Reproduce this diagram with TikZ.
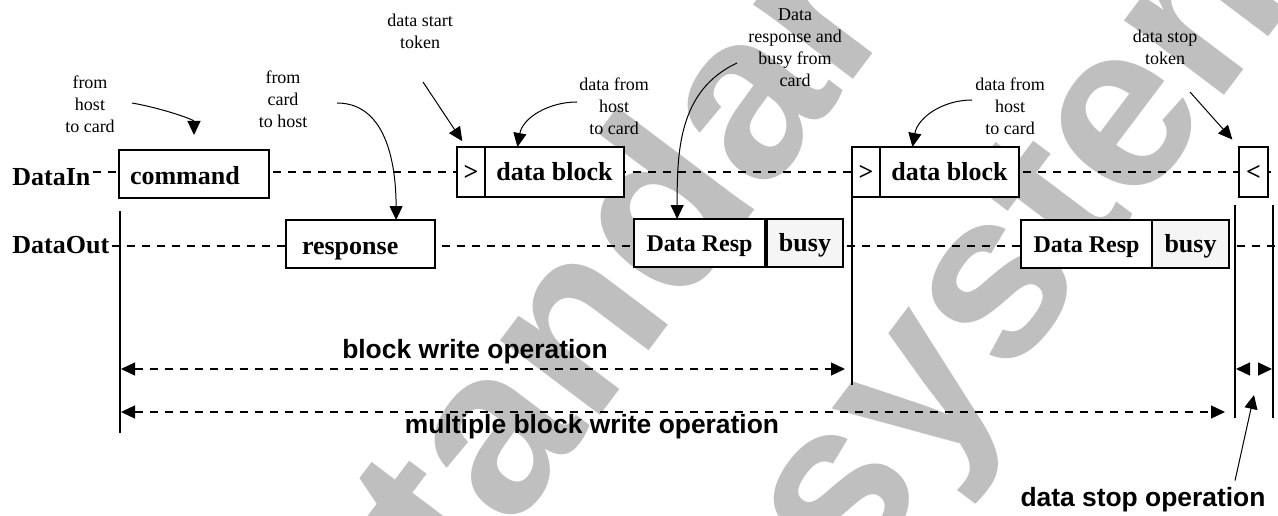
\documentclass[tikz,border=0pt]{standalone}
\usepackage{fontspec}
\setmainfont{Liberation Serif}
\setsansfont{Liberation Sans}
\usetikzlibrary{positioning,arrows.meta}

\begin{document}
\begin{tikzpicture}[
  x=0.5pt, y=0.5pt,
  box/.style={
    draw,
    fill=white,
    line width=0.8pt,
    outer sep=0pt,
    inner sep=0pt,
    minimum height=24pt,
    text height=9pt,
    text depth=1pt,
    font=\fontsize{13}{15}\selectfont\bfseries
  },
  token/.style={box, minimum width=14pt, minimum height=25pt},
  lane/.style={line width=0.65pt, dash pattern=on 4pt off 3.5pt},
  span/.style={
    lane,
    {Triangle[length=7pt,width=6.5pt]}-{Triangle[length=7pt,width=6.5pt]}
  },
  note/.style={align=center, font=\fontsize{9}{11}\selectfont},
  pointer/.style={line width=0.5pt, -{Triangle[length=7pt,width=6.5pt]}},
  optext/.style={font=\sffamily\bfseries\fontsize{13.2}{15}\selectfont},
  signal/.style={anchor=west, inner sep=1pt,
    font=\fontsize{13}{15}\selectfont\bfseries},
  wm/.style={anchor=base west, rotate=53, text=black!25,
    font=\sffamily\bfseries\fontsize{118}{118}\selectfont}
]
\useasboundingbox (0,0) rectangle (1278,515);

% grey stamp behind everything
\node[wm] (wm1) at (381,-191) {standard};
\node[wm] (wm2) at (847,-81) {system};

% the two signal lines
\node[signal] (datain) at (10,338) {DataIn};
\node[signal] (dataout) at (10,270) {DataOut};
\coordinate (inend) at (1278,343);
\coordinate (outend) at (1278,269);
\draw[lane] (datain.east |- inend) -- (inend);
\draw[lane] (dataout.east |- outend) -- (outend);

% tokens on DataIn
\node[box, minimum width=75pt, align=left, inner xsep=5.5pt, text width=64pt,
  text height=11pt, text depth=0pt] (cmd) at (194,341) {command};
\node[token] (st1) at (471,343) {>};
\node[box, minimum width=69.5pt, minimum height=25pt, right=0pt of st1] (db1) {data block};
\node[token] (st2) at (866,343) {>};
\node[box, minimum width=69.5pt, minimum height=25pt, right=0pt of st2] (db2) {data block};
\node[token, minimum width=14.5pt] (sp) at (1253.5,343) {<};

% tokens on DataOut
\node[box, minimum width=74.5pt, align=left, inner xsep=8pt, text width=58.5pt,
  text height=10pt, text depth=0pt] (resp) at (360.5,271) {response};
\node[box, minimum width=65.5pt, font=\fontsize{12}{14}\selectfont\bfseries] (dr1) at (699.5,272) {Data Resp};
\node[box, fill=black!4, minimum width=38pt, right=1pt of dr1] (busy1) {busy};
\node[box, minimum width=65.5pt, font=\fontsize{12}{14}\selectfont\bfseries] (dr2) at (1086.5,271) {Data Resp};
\node[box, fill=black!4, minimum width=38.5pt, right=0pt of dr2] (busy2) {busy};

% markers
\coordinate (lt) at (120,304);
\coordinate (lb) at (120,82);
\coordinate (mb) at (852,130);
\draw[line width=0.7pt] (lt) -- (lb);
\draw[line width=0.7pt] (st2.south west) -- (mb);
\foreach \x/\n in {1235/ra,1273/rb} {
  \coordinate (\n-t) at (\x,310);
  \coordinate (\n-b) at (\x,97);
  \draw[line width=0.7pt] (\n-t) -- (\n-b);
}

% operation spans
\coordinate (bwl) at (121,146);
\coordinate (bwr) at (845,146);
\coordinate (mbwl) at (121,103);
\coordinate (mbwr) at (1225,103);
\coordinate (stl) at (1236,146);
\coordinate (str) at (1272,146);
\draw[span] (bwl) -- (bwr);
\draw[span] (mbwl) -- (mbwr);
\draw[span, dash pattern=on 0pt off 20pt] (stl) -- (str);
\node[optext] (bwt) at (475,163) {block write operation};
\node[optext] (mbwt) at (592,88) {multiple block write operation};
\node[optext] (dso) at (1143,15) {data stop operation};
\coordinate (gap) at (1254,120);
\draw[pointer] (dso.north -| ra-b) -- (gap);

% notes above the lines
\node[note] (n1) at (90,411) {from\\host\\to card};
\node[note] (n2) at (283,416) {from\\card\\to host};
\node[note] (n3) at (420,484) {data start\\token};
\node[note] (n4) at (614,409) {data from\\host\\to card};
\node[note] (n5) at (795,467) {Data\\response and\\busy from\\card};
\node[note] (n6) at (1010,409) {data from\\host\\to card};
\node[note] (n7) at (1165,468) {data stop\\token};

\coordinate (n1-tail) at (132,412);
\coordinate (n2-tail) at (337,412);
\coordinate (n3-tail) at (423,433);
\coordinate (n4-tail) at (577,413);
\coordinate (n5-tail) at (737,452);
\coordinate (n6-tail) at (972,415);
\coordinate (n7-tail) at (1190,423);

\draw[pointer, shorten >=7.5pt] (n1-tail) to[out=-10, in=90] (cmd.north);
\draw[pointer] (n2-tail) to[out=0, in=90] (resp.34);
\draw[pointer, shorten >=3.5pt] (n3-tail) -- (st1.101);
\draw[pointer] (n4-tail) to[out=180, in=80] (db1.146);
\draw[pointer] (n5-tail) to[out=205, in=90] (dr1.133);
\draw[pointer] (n6-tail) to[out=180, in=80] (db2.146);
\draw[pointer, shorten >=5pt] (n7-tail) -- (sp.north west);
\end{tikzpicture}
\end{document}
